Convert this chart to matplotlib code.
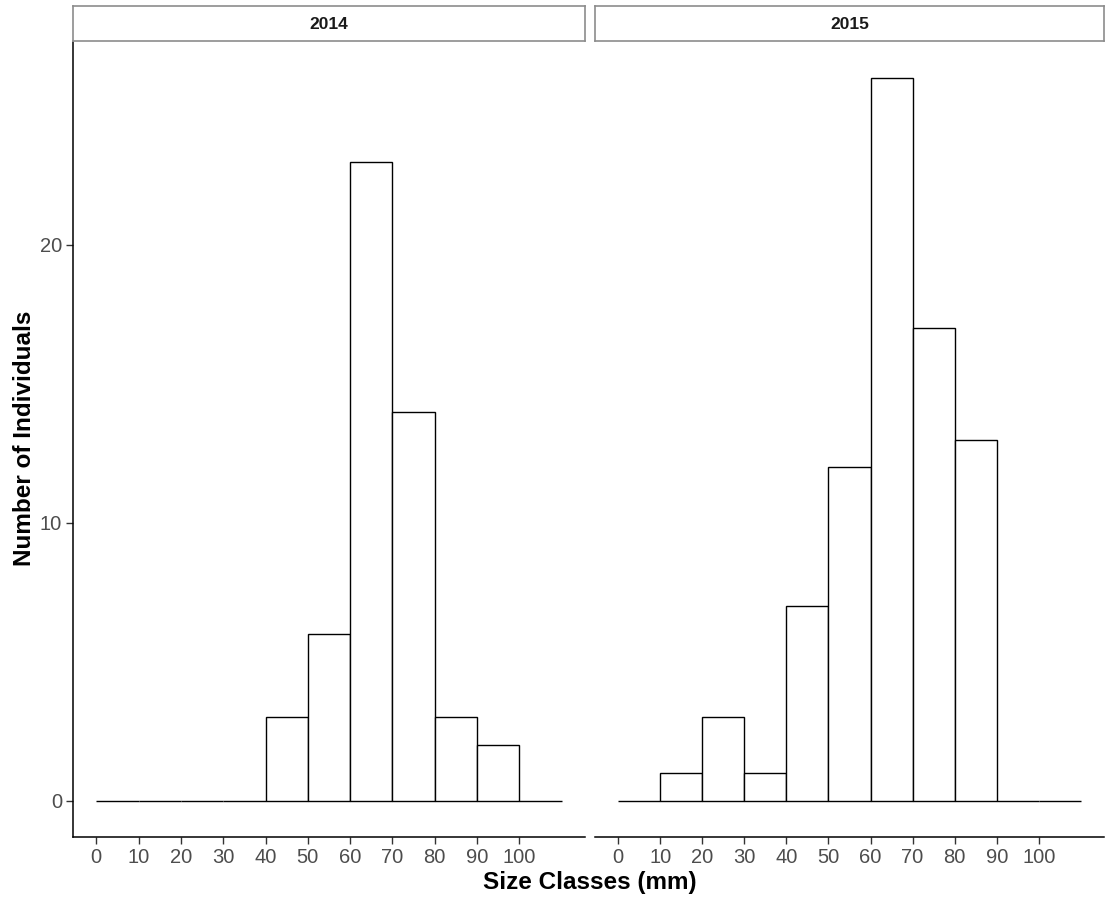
import numpy as np
import matplotlib.pyplot as plt

plt.rcParams['font.family'] = ['Liberation Sans', 'DejaVu Sans']

bin_left = [0, 10, 20, 30, 40, 50, 60, 70, 80, 90, 100]
counts_2014 = [0, 0, 0, 0, 3, 6, 23, 14, 3, 2, 0]
counts_2015 = [0, 1, 3, 1, 7, 12, 26, 17, 13, 0, 0]
years = ["2014", "2015"]
xticks = [0, 10, 20, 30, 40, 50, 60, 70, 80, 90, 100]
yticks = [0, 10, 20]

W, H = 1105, 902
fig = plt.figure(figsize=(W / 100, H / 100), dpi=100)

panels = [(73, 585), (595, 1104)]
top, bottom = 42, 837
strip_top = 6

for i, (counts, year) in enumerate(zip([counts_2014, counts_2015], years)):
    x0, x1 = panels[i]
    ax = fig.add_axes([x0 / W, 1 - bottom / H, (x1 - x0) / W, (bottom - top) / H])
    ax.bar(bin_left, counts, width=10, align='edge', facecolor='white',
           edgecolor='black', linewidth=1.0)
    ax.set_xlim(-5.5, 115.5)
    ax.set_ylim(-1.3, 27.3)
    ax.set_xticks(xticks)
    ax.set_xticklabels([str(t) for t in xticks])
    ax.set_yticks(yticks)
    for s in ['top', 'right']:
        ax.spines[s].set_visible(False)
    ax.spines['bottom'].set_color('black')
    ax.spines['bottom'].set_linewidth(1.1)
    ax.spines['left'].set_linewidth(1.1)
    ax.tick_params(axis='both', colors='#333333', labelcolor='#4d4d4d',
                   labelsize=14.5, length=5, width=1.0, pad=3)
    if i == 1:
        ax.spines['left'].set_visible(False)
        ax.tick_params(axis='y', left=False, labelleft=False)

    sax = fig.add_axes([x0 / W, 1 - (top - 1) / H, (x1 - x0) / W, (top - 1 - strip_top) / H])
    sax.set_xticks([])
    sax.set_yticks([])
    sax.set_facecolor('white')
    for s in sax.spines.values():
        s.set_color('#8c8c8c')
        s.set_linewidth(1.2)
    sax.text(0.5, 0.47, year, ha='center', va='center', fontsize=12.5,
             fontweight='bold', color='#1a1a1a', transform=sax.transAxes)

fig.text(590 / W, 1 - 883 / H, "Size Classes (mm)", ha='center', va='center',
         fontsize=17.5, fontweight='bold')
fig.text(25 / W, 1 - 438 / H, "Number of Individuals", ha='center', va='center',
         rotation=90, fontsize=17.5, fontweight='bold')

fig.savefig("out.png", dpi=100)
